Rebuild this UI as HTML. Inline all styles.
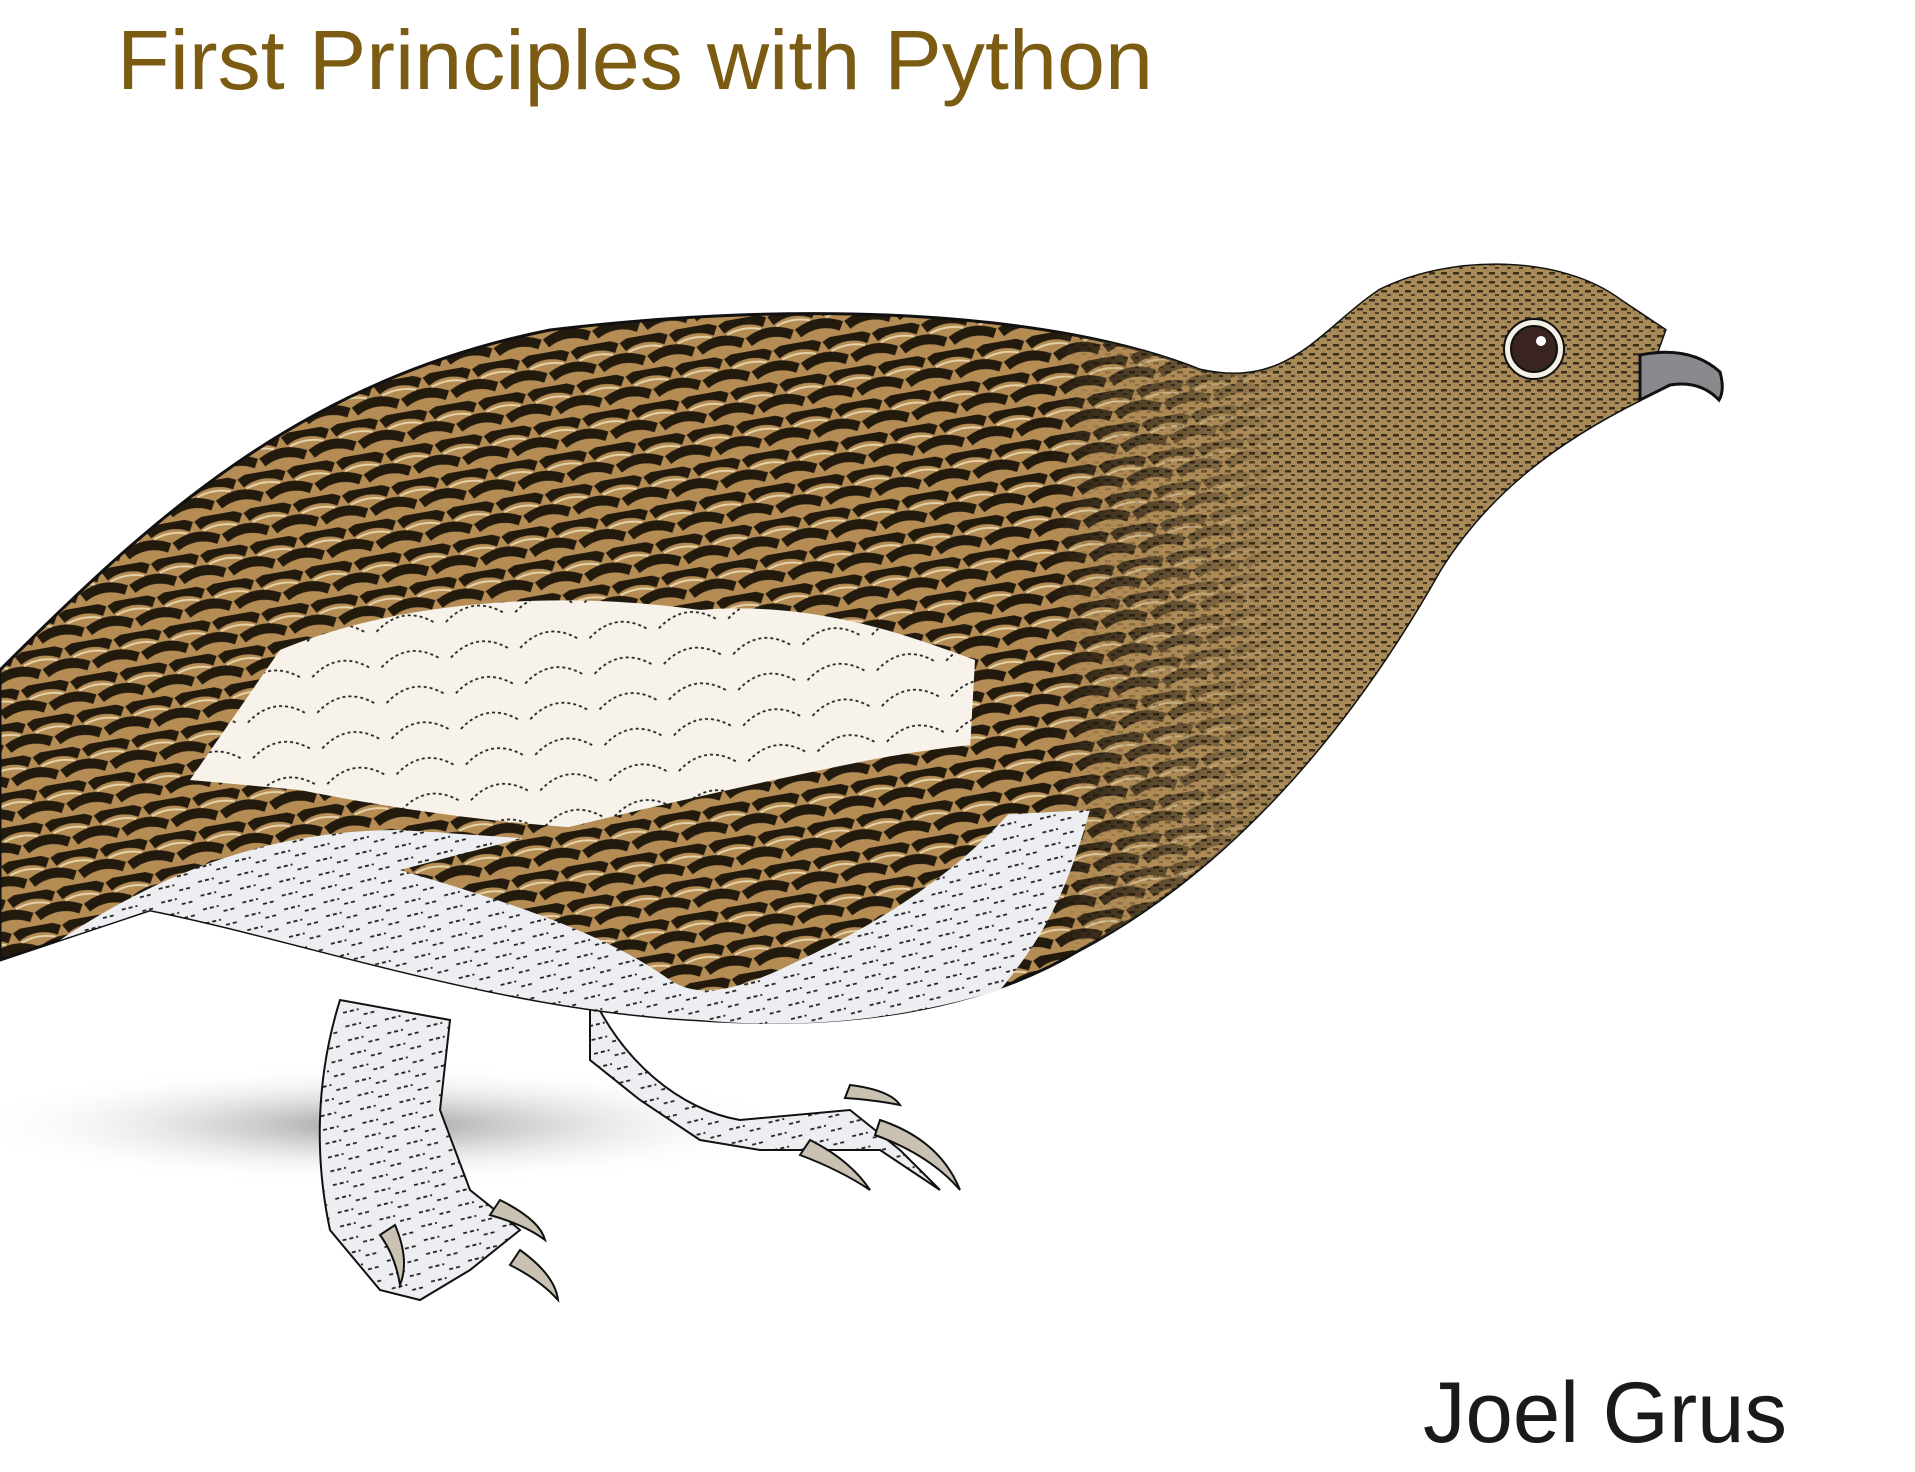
<!DOCTYPE html>
<html><head><meta charset="utf-8"><style>
html,body{margin:0;padding:0;background:#fff;}
svg{display:block}
</style></head><body>
<svg width="1915" height="1472" viewBox="0 0 1915 1472" xmlns="http://www.w3.org/2000/svg">
<defs>
<pattern id="feath" width="50" height="34" patternUnits="userSpaceOnUse" patternTransform="rotate(-10)">
<rect width="50" height="34" fill="#b48c54"/>
<path d="M3,8 Q25,-4 47,8" stroke="#231a0e" stroke-width="10" fill="none"/>
<path d="M-22,25 Q0,13 22,25 M28,25 Q50,13 72,25" stroke="#231a0e" stroke-width="10" fill="none"/>
<path d="M8,14 Q25,8 42,14" stroke="#e6d4aa" stroke-width="2" fill="none"/>
</pattern>
<pattern id="head" width="12" height="9" patternUnits="userSpaceOnUse">
<rect width="12" height="9" fill="#a88a58"/>
<rect x="1" y="2" width="6" height="2.5" fill="#3a2e1c"/>
<rect x="7" y="6" width="4" height="2" fill="#4a3c26"/>
</pattern>
<pattern id="wing" width="70" height="36" patternUnits="userSpaceOnUse" patternTransform="rotate(-8)">
<rect width="70" height="36" fill="#f7f3ea"/>
<path d="M5,30 Q35,6 65,30" stroke="#222" stroke-width="1.8" stroke-dasharray="3 3" fill="none"/>
</pattern>
<pattern id="belly" width="40" height="14" patternUnits="userSpaceOnUse" patternTransform="rotate(-10)">
<rect width="40" height="14" fill="#eceef1"/>
<path d="M2,7 L18,6 M22,12 L36,11" stroke="#222" stroke-width="1.8" stroke-dasharray="4 3"/>
</pattern>
<radialGradient id="shad" cx="0.5" cy="0.5" r="0.5">
<stop offset="0" stop-color="#9a9a9a"/><stop offset="1" stop-color="#fff" stop-opacity="0"/>
</radialGradient>
<linearGradient id="hfade" x1="0" y1="0" x2="1" y2="0">
<stop offset="0" stop-color="#000"/><stop offset="0.35" stop-color="#fff"/><stop offset="1" stop-color="#fff"/>
</linearGradient>
<mask id="hm" maskUnits="userSpaceOnUse" x="1050" y="200" width="700" height="900">
<rect x="1050" y="200" width="700" height="900" fill="url(#hfade)"/>
</mask>
</defs>

<text x="117" y="89" font-family="Liberation Sans, sans-serif" font-size="84" fill="#7c5c12" textLength="1036" lengthAdjust="spacingAndGlyphs">First Principles with Python</text>

<ellipse cx="380" cy="1125" rx="420" ry="60" fill="url(#shad)"/>

<path d="M340,1000 C315,1080 315,1160 330,1230 L380,1290 L420,1300 L470,1270 L520,1230 L470,1190 L440,1110 L450,1020 Z" fill="url(#belly)" stroke="#111" stroke-width="2"/>
<path d="M590,990 C620,1060 680,1110 740,1120 L850,1110 L900,1150 L940,1190 L880,1150 L820,1150 L760,1150 L700,1140 L640,1100 L590,1060 Z" fill="url(#belly)" stroke="#111" stroke-width="2"/>
<g fill="#c9c2b2" stroke="#111" stroke-width="2">
<path d="M395,1225 Q410,1260 400,1285 Q395,1255 380,1235Z"/>
<path d="M500,1200 Q540,1220 545,1240 Q525,1225 490,1215Z"/>
<path d="M520,1250 Q555,1275 558,1300 Q540,1280 510,1265Z"/>
<path d="M850,1085 Q890,1090 900,1105 Q875,1100 845,1098Z"/>
<path d="M880,1120 Q940,1140 960,1190 Q930,1155 875,1135Z"/>
<path d="M810,1140 Q850,1160 870,1190 Q840,1170 800,1155Z"/>
</g>

<path d="M0,670 C150,520 300,380 550,330 C800,300 1050,310 1200,370 C1290,390 1320,330 1380,290 C1450,255 1560,255 1620,300 L1665,330 L1640,400 C1560,440 1490,490 1440,570 C1350,730 1230,870 1080,950 C980,1010 850,1030 700,1020 C500,1010 300,940 150,910 L60,940 L0,960 Z" fill="url(#feath)" stroke="#111" stroke-width="3"/>
<path d="M0,670 C150,520 300,380 550,330 C800,300 1050,310 1200,370 C1290,390 1320,330 1380,290 C1450,255 1560,255 1620,300 L1665,330 L1640,400 C1560,440 1490,490 1440,570 C1350,730 1230,870 1080,950 Z" fill="url(#head)" mask="url(#hm)"/>
<path d="M60,940 C150,880 260,830 400,830 L700,850 L900,820 L1090,810 C1070,880 1050,930 1000,990 C900,1020 800,1030 700,1020 C500,1010 300,940 150,910 Z" fill="url(#belly)"/>
<path d="M280,650 C400,600 560,590 700,610 C820,600 920,640 975,660 L970,750 C900,790 820,820 720,830 C600,835 450,820 300,790 L190,780 Z" fill="url(#wing)"/>
<path d="M400,870 C550,830 720,790 870,760 C950,745 1010,740 1060,740 C1020,820 930,900 800,960 C740,990 700,1000 670,980 C600,930 500,900 400,870 Z" fill="url(#feath)"/>
<path d="M1640,355 Q1690,345 1720,372 Q1725,390 1719,400 Q1700,380 1670,385 L1640,400 Z" fill="#8a8a8e" stroke="#111" stroke-width="3"/>
<circle cx="1534" cy="349" r="30" fill="#f4f0e6" stroke="#111" stroke-width="2"/>
<circle cx="1534" cy="349" r="23" fill="#3a2422" stroke="#111" stroke-width="2"/>
<circle cx="1541" cy="341" r="5" fill="#fff"/>

<text x="1423" y="1442" font-family="Liberation Sans, sans-serif" font-size="86" fill="#1a1a1a" textLength="364" lengthAdjust="spacingAndGlyphs">Joel Grus</text>
</svg>
</body></html>
